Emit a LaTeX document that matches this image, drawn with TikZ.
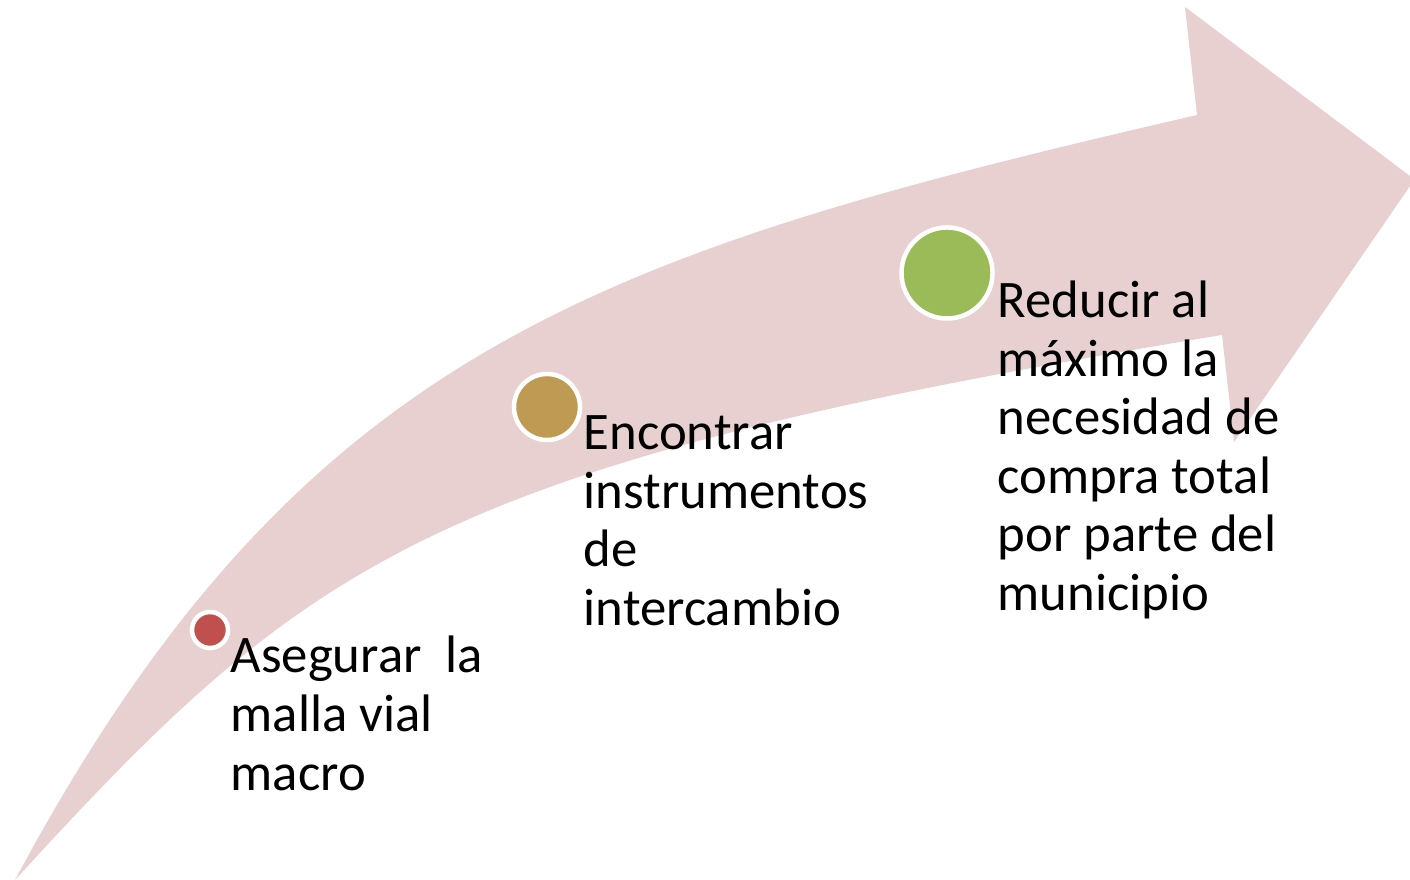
\documentclass[tikz,border=0pt]{standalone}
\usepackage{fontspec}
\setmainfont{Carlito}
\definecolor{arrowpink}{HTML}{E8D0D1}
\definecolor{dotred}{HTML}{C0504D}
\definecolor{dotgold}{HTML}{BE9A52}
\definecolor{dotgreen}{HTML}{9BBB59}
\begin{document}
\begin{tikzpicture}[x=0.01cm,y=-0.01cm,
  dot/.style={circle,draw=white,line width=0.045cm,inner sep=0pt},
  steplabel/.style={anchor=base west,inner sep=0pt,align=left,
    font=\fontsize{15pt}{16.64pt}\selectfont}]
\useasboundingbox (0,0) rectangle (1410,880);
\fill[arrowpink] (15,880) .. controls (308,560) and (430,465) .. (1222,335)
  -- (1234,442) -- (1410,186) -- (1410,176) -- (1185,7) -- (1197,115)
  .. controls (600,253) and (300,348) .. (15,880) -- cycle;
\node[dot,fill=dotred,minimum size=0.36cm] (d1) at (210,630) {};
\node[dot,fill=dotgold,minimum size=0.66cm] (d2) at (547,407) {};
\node[dot,fill=dotgreen,minimum size=0.91cm] (d3) at (947,273) {};
% base anchor of a multi-line node lies on its last line
\node[steplabel] (t1) at (230,790) {Asegurar\ \ la\\malla vial\\macro};
\node[steplabel] (t2) at (583,625.5) {Encontrar\\instrumentos\\de\\intercambio};
\node[steplabel] (t3) at (997,610.5) {Reducir al\\máximo la\\necesidad de\\compra total\\por parte del\\municipio};
\end{tikzpicture}
\end{document}
